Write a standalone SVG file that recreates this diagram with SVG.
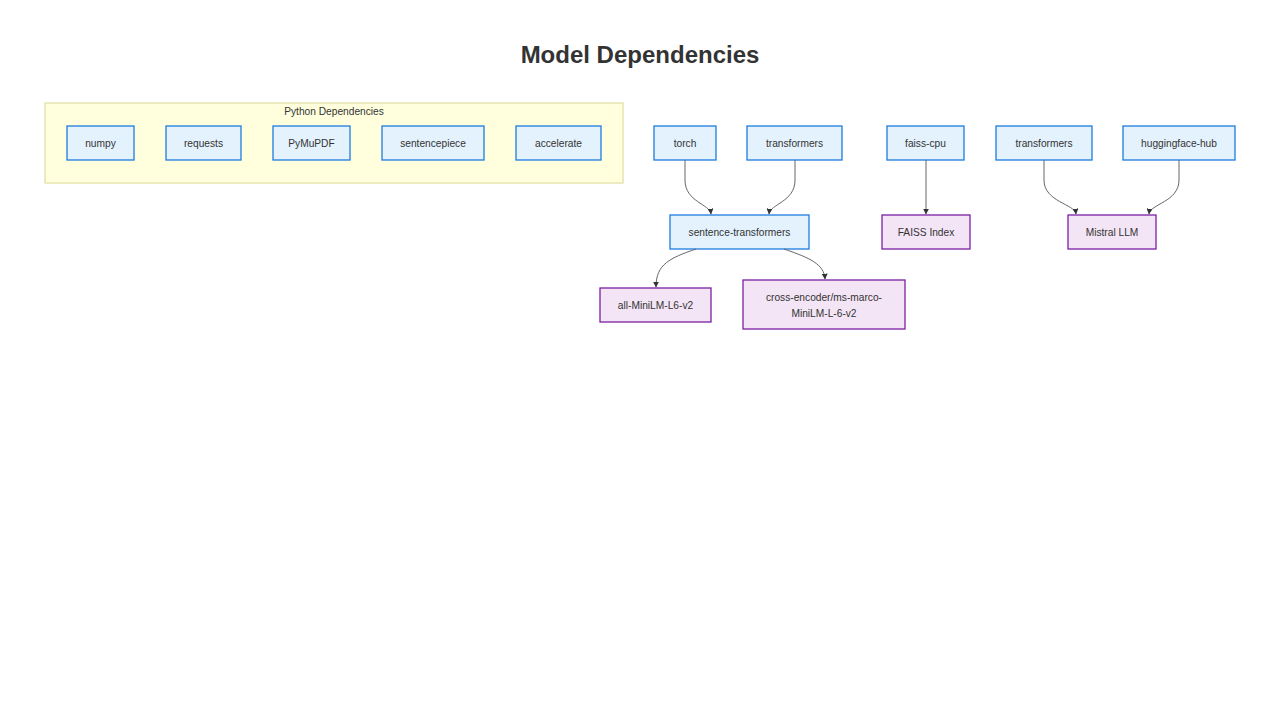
<svg xmlns="http://www.w3.org/2000/svg" width="1280" height="720" viewBox="0 0 1280 720">
<defs>
<marker id="arr" viewBox="0 0 10 10" refX="9" refY="5" markerWidth="6" markerHeight="6" orient="auto">
<path d="M0,0 L10,5 L0,10 z" fill="#333"/>
</marker>
<style>
.t{font-family:"Liberation Sans",Arial,sans-serif;font-size:10.2px;fill:#333;text-anchor:middle;dominant-baseline:central}
.b rect{fill:#e3f2fd;stroke:#1e7be0;stroke-width:1.3}
.p rect{fill:#f3e5f5;stroke:#7b1fa2;stroke-width:1.3}
.e path{fill:none;stroke:#666;stroke-width:1;marker-end:url(#arr)}
</style>
</defs>
<rect width="1280" height="720" fill="#fff"/>
<text x="640" y="54" font-family="Liberation Sans,Arial,sans-serif" font-size="24" font-weight="bold" fill="#333" text-anchor="middle" dominant-baseline="central">Model Dependencies</text>
<g id="cluster-python">
<rect x="45" y="103" width="578" height="80" fill="#ffffde" stroke="#d8d890" stroke-width="1"/>
<text class="t" x="334" y="111">Python Dependencies</text>
</g>
<g id="numpy" class="b"><rect x="67" y="126" width="67" height="34"/><text class="t" x="100.5" y="143">numpy</text></g>
<g id="requests" class="b"><rect x="166" y="126" width="75" height="34"/><text class="t" x="203.5" y="143">requests</text></g>
<g id="pymupdf" class="b"><rect x="273" y="126" width="77" height="34"/><text class="t" x="311.5" y="143">PyMuPDF</text></g>
<g id="sentencepiece" class="b"><rect x="382" y="126" width="102" height="34"/><text class="t" x="433" y="143">sentencepiece</text></g>
<g id="accelerate" class="b"><rect x="516" y="126" width="85" height="34"/><text class="t" x="558.5" y="143">accelerate</text></g>
<g id="torch" class="b"><rect x="654" y="126" width="62" height="34"/><text class="t" x="685" y="143">torch</text></g>
<g id="transformers1" class="b"><rect x="747" y="126" width="95" height="34"/><text class="t" x="794.5" y="143">transformers</text></g>
<g id="faiss-cpu" class="b"><rect x="887" y="126" width="77" height="34"/><text class="t" x="925.5" y="143">faiss-cpu</text></g>
<g id="transformers2" class="b"><rect x="996" y="126" width="96" height="34"/><text class="t" x="1044" y="143">transformers</text></g>
<g id="hf-hub" class="b"><rect x="1123" y="126" width="112" height="34"/><text class="t" x="1179" y="143">huggingface-hub</text></g>
<g id="sentence-transformers" class="b"><rect x="670" y="215" width="139" height="34"/><text class="t" x="739.5" y="232">sentence-transformers</text></g>
<g id="faiss-index" class="p"><rect x="882" y="215" width="88" height="34"/><text class="t" x="926" y="232">FAISS Index</text></g>
<g id="mistral" class="p"><rect x="1068" y="215" width="88" height="34"/><text class="t" x="1112" y="232">Mistral LLM</text></g>
<g id="minilm" class="p"><rect x="600" y="288" width="111" height="34"/><text class="t" x="655.5" y="305">all-MiniLM-L6-v2</text></g>
<g id="cross-encoder" class="p"><rect x="743" y="280" width="162" height="49"/><text class="t" x="824" y="297">cross-encoder/ms-marco-</text><text class="t" x="824" y="313">MiniLM-L-6-v2</text></g>
<g id="edges" class="e">
<path d="M685,160 L685,180 C685,202 710,204 711,214"/>
<path d="M795,160 L795,180 C795,202 770,204 769,214"/>
<path d="M926,160 L926,214"/>
<path d="M1044,160 L1044,180 C1044,202 1075,204 1076,214"/>
<path d="M1179,160 L1179,180 C1179,202 1150,204 1149,214"/>
<path d="M696,249 C670,258 656,264 656,287"/>
<path d="M784,249 C810,258 824,264 825,279"/>
</g>
</svg>
